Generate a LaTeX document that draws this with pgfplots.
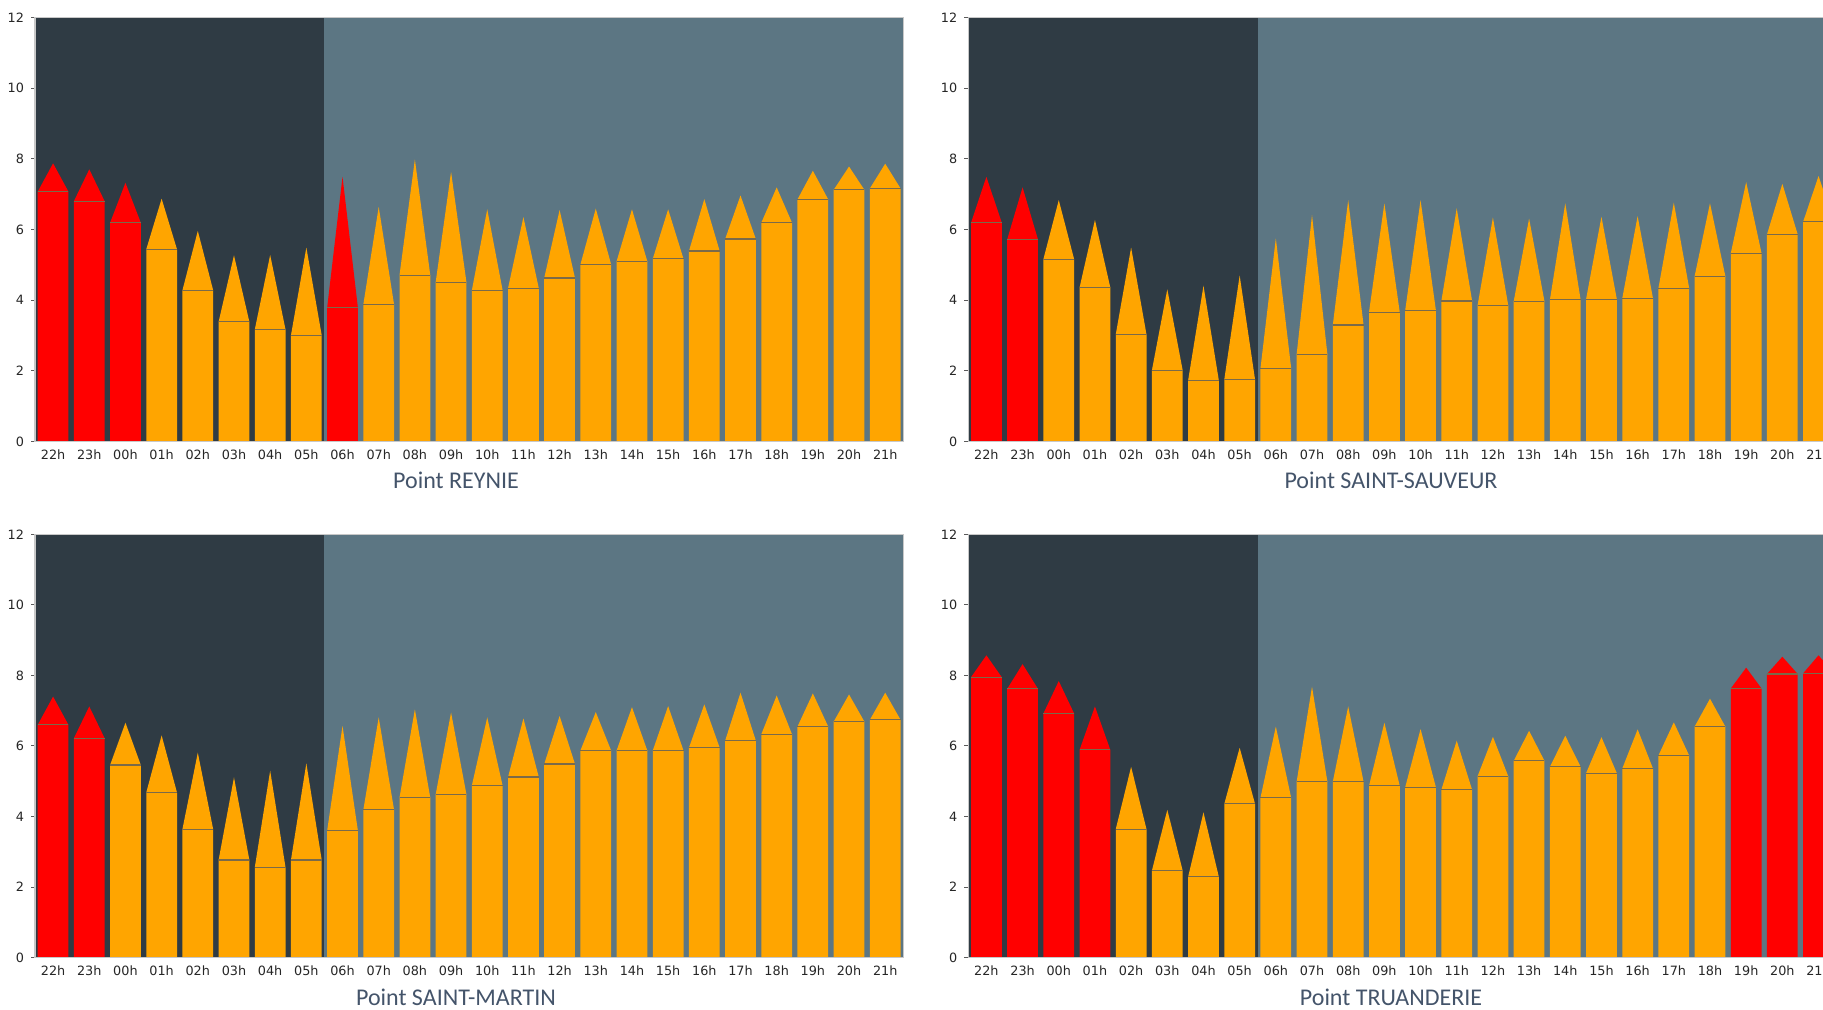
\documentclass[border=0pt]{standalone}
\usepackage{pgfplots}
\usepackage{pgfplotstable}
\pgfplotsset{compat=1.18}
\usepackage{fontspec}
\setmainfont{DejaVu Sans}
\newfontfamily\titlefont{Carlito}

\definecolor{bgdark}{HTML}{2F3B44}
\definecolor{bglight}{HTML}{5C7683}
\definecolor{pred}{HTML}{FF0000}
\definecolor{porange}{HTML}{FFA500}
\definecolor{meanline}{HTML}{7A6A4A}
\definecolor{titlecol}{HTML}{44546A}
\definecolor{ticktext}{HTML}{262626}
\definecolor{axisgray}{HTML}{C8C8C8}
\definecolor{leftspine}{HTML}{5A5A5A}

\pgfplotstableread{
x mean max red
0 7.07 7.87 1
1 6.80 7.70 1
2 6.19 7.32 1
3 5.44 6.87 0
4 4.28 5.96 0
5 3.39 5.27 0
6 3.17 5.28 0
7 3.01 5.49 0
8 3.79 7.49 1
9 3.88 6.64 0
10 4.71 7.98 0
11 4.51 7.63 0
12 4.28 6.57 0
13 4.34 6.35 0
14 4.63 6.55 0
15 5.01 6.59 0
16 5.10 6.57 0
17 5.17 6.57 0
18 5.39 6.86 0
19 5.73 6.96 0
20 6.19 7.19 0
21 6.85 7.66 0
22 7.12 7.78 0
23 7.16 7.86 0
}\reynie

\pgfplotstableread{
x mean max red
0 6.19 7.49 1
1 5.72 7.19 1
2 5.16 6.83 0
3 4.36 6.27 0
4 3.03 5.49 0
5 2.02 4.31 0
6 1.73 4.41 0
7 1.76 4.70 0
8 2.07 5.75 0
9 2.47 6.41 0
10 3.30 6.83 0
11 3.66 6.74 0
12 3.71 6.83 0
13 3.98 6.60 0
14 3.85 6.34 0
15 3.97 6.31 0
16 4.01 6.74 0
17 4.03 6.36 0
18 4.05 6.38 0
19 4.34 6.76 0
20 4.68 6.74 0
21 5.33 7.34 0
22 5.86 7.29 0
23 6.22 7.51 0
}\sauveur

\pgfplotstableread{
x mean max red
0 6.60 7.40 1
1 6.22 7.12 1
2 5.46 6.66 0
3 4.68 6.30 0
4 3.64 5.81 0
5 2.77 5.11 0
6 2.56 5.30 0
7 2.77 5.51 0
8 3.60 6.57 0
9 4.19 6.81 0
10 4.54 7.04 0
11 4.63 6.95 0
12 4.88 6.81 0
13 5.12 6.78 0
14 5.49 6.85 0
15 5.87 6.96 0
16 5.87 7.10 0
17 5.87 7.13 0
18 5.95 7.18 0
19 6.15 7.51 0
20 6.33 7.43 0
21 6.55 7.49 0
22 6.69 7.46 0
23 6.74 7.51 0
}\martin

\pgfplotstableread{
x mean max red
0 7.95 8.57 1
1 7.62 8.32 1
2 6.92 7.84 1
3 5.89 7.12 1
4 3.64 5.41 0
5 2.47 4.19 0
6 2.29 4.12 0
7 4.36 5.95 0
8 4.53 6.55 0
9 4.99 7.68 0
10 4.99 7.12 0
11 4.87 6.66 0
12 4.83 6.48 0
13 4.76 6.15 0
14 5.14 6.26 0
15 5.58 6.43 0
16 5.41 6.29 0
17 5.23 6.25 0
18 5.36 6.47 0
19 5.73 6.67 0
20 6.55 7.34 0
21 7.63 8.22 1
22 8.04 8.53 1
23 8.06 8.57 1
}\truanderie

\newcommand{\pencils}[1]{%
  \pgfplotsforeachungrouped \i in {0,...,23}{%
    \pgfplotstablegetelem{\i}{x}\of{#1}\let\vx\pgfplotsretval
    \pgfplotstablegetelem{\i}{mean}\of{#1}\let\vm\pgfplotsretval
    \pgfplotstablegetelem{\i}{max}\of{#1}\let\vM\pgfplotsretval
    \pgfplotstablegetelem{\i}{red}\of{#1}\let\vr\pgfplotsretval
    \pgfmathsetmacro\xl{\vx-0.425}%
    \pgfmathsetmacro\xr{\vx+0.425}%
    \ifnum\vr=1 \def\pc{pred}\else\def\pc{porange}\fi
    \edef\doplot{%
      \noexpand\addplot[draw=none, fill=\pc, mark=none] coordinates {(\xl,0) (\xl,\vm) (\vx,\vM) (\xr,\vm) (\xr,0)};
      \noexpand\addplot[draw=meanline, line width=0.6pt, mark=none] coordinates {(\xl,\vm) (\xr,\vm)};
    }\doplot
  }%
}

\pgfplotsset{
  panel/.style={
    anchor=south west, scale only axis,
    width=434.15pt,
    xmin=-0.5, xmax=23.5, ymin=0, ymax=12,
    xtick={0,...,23},
    xticklabels={22h,23h,00h,01h,02h,03h,04h,05h,06h,07h,08h,09h,10h,11h,12h,13h,14h,15h,16h,17h,18h,19h,20h,21h},
    ytick={0,2,...,12},
    ytick pos=left, xtick pos=bottom,
    tick align=outside, major tick length=2pt,
    xtick style={draw=none},
    ytick style={draw=leftspine, line width=0.5pt},
    tick label style={font=\fontsize{6.4}{7}\selectfont, text=ticktext},
    xticklabel style={yshift=1.6pt},
    /pgf/number format/assume math mode=true,
    axis line style={draw=axisgray, line width=0.6pt},
    axis on top,
    clip=true,
  },
}

\newcommand{\background}{%
  \addplot[draw=none, fill=bgdark, mark=none] coordinates {(-0.5,0) (-0.5,12) (7.5,12) (7.5,0)};
  \addplot[draw=none, fill=bglight, mark=none] coordinates {(7.5,0) (7.5,12) (23.5,12) (23.5,0)};
}

\begin{document}
\begin{tikzpicture}
\useasboundingbox (0,0) rectangle (911.5pt,505pt);
\clip (0,0) rectangle (911.5pt,505pt);

\begin{axis}[panel, at={(17.5pt,284.15pt)}, height=212.2pt]
  \background
  \pencils{\reynie}
  \draw[leftspine, line width=0.6pt] (rel axis cs:0,0) -- (rel axis cs:0,1);
\end{axis}

\begin{axis}[panel, at={(484.15pt,284.15pt)}, height=212.2pt]
  \background
  \pencils{\sauveur}
  \draw[leftspine, line width=0.6pt] (rel axis cs:0,0) -- (rel axis cs:0,1);
\end{axis}

\begin{axis}[panel, at={(17.5pt,26.15pt)}, height=211.7pt]
  \background
  \pencils{\martin}
  \draw[leftspine, line width=0.6pt] (rel axis cs:0,0) -- (rel axis cs:0,1);
\end{axis}

\begin{axis}[panel, at={(484.15pt,26.15pt)}, height=211.7pt]
  \background
  \pencils{\truanderie}
  \draw[leftspine, line width=0.6pt] (rel axis cs:0,0) -- (rel axis cs:0,1);
\end{axis}

\begin{scope}[every node/.style={anchor=base, text=titlecol, font=\titlefont\fontsize{12}{13}\selectfont, inner sep=0pt}]
  \node at (228pt,260.5pt) {Point REYNIE};
  \node at (695.5pt,260.5pt) {Point SAINT-SAUVEUR};
  \node at (228pt,2.3pt) {Point SAINT-MARTIN};
  \node at (695.5pt,2.3pt) {Point TRUANDERIE};
\end{scope}
\end{tikzpicture}
\end{document}
